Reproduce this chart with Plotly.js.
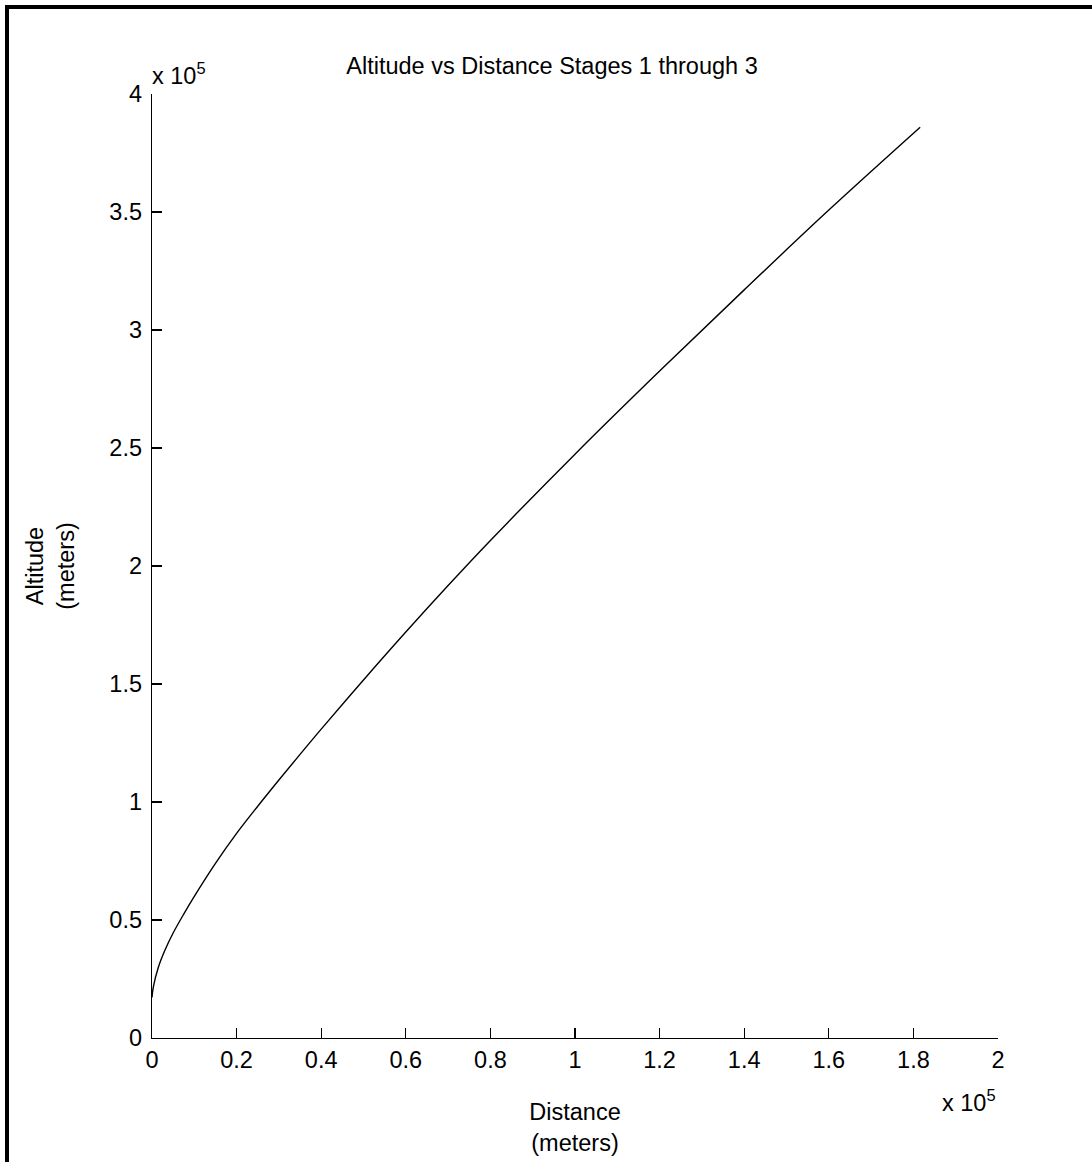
<!DOCTYPE html>
<html>
<head>
<meta charset="utf-8">
<script src="https://cdn.plot.ly/plotly-3.0.1.min.js"></script>
<style>
  html, body { margin: 0; padding: 0; background: #fff; }
  #chart { width: 1092px; height: 1162px; }
</style>
</head>
<body>
<div id="chart"></div>
<script>
// Distance (meters) and altitude (meters)
const distance = [0, 300, 1500, 3000, 5000, 7500, 10000, 15000, 20000, 25000, 30000,
  35000, 40000, 50000, 60000, 70000, 80000, 100000, 120000, 140000, 160000, 181600];
const altitude = [17200, 21500, 30000, 37000, 44500, 52500, 60000, 74000, 86700, 98200, 109300,
  120200, 130900, 151700, 172000, 191700, 210800, 247400, 282600, 317000, 350800, 385900];

const xTickVals = [0, 20000, 40000, 60000, 80000, 100000, 120000, 140000, 160000, 180000, 200000];
const xTickText = ['0', '0.2', '0.4', '0.6', '0.8', '1', '1.2', '1.4', '1.6', '1.8', '2'];
const yTickVals = [0, 50000, 100000, 150000, 200000, 250000, 300000, 350000, 400000];
const yTickText = ['0', '0.5', '1', '1.5', '2', '2.5', '3', '3.5', '4'];

const W = 1092, H = 1162;
const L = 152, R = 998, T = 94, B = 1038;
const px = v => (v - L) / (R - L);
const py = v => (B - v) / (B - T);
const FONT = 'Liberation Sans, Arial, sans-serif';
const FS = 23.5;

const trace = {
  x: distance, y: altitude, type: 'scatter', mode: 'lines',
  line: { color: '#000', width: 1.4, shape: 'spline', smoothing: 1 },
  hoverinfo: 'skip', showlegend: false
};

const layout = {
  width: W, height: H,
  margin: { l: L, r: W - R, t: T, b: H - B, pad: 0 },
  paper_bgcolor: '#fff', plot_bgcolor: '#fff',
  font: { family: FONT, size: FS, color: '#000' },
  title: {
    text: 'Altitude vs Distance Stages 1 through 3',
    font: { family: FONT, size: FS, color: '#000' },
    xref: 'container', yref: 'container', x: 552 / W, y: 1 - 66 / H,
    xanchor: 'center', yanchor: 'middle'
  },
  xaxis: {
    range: [0, 200000], tickvals: xTickVals, ticktext: xTickText,
    ticks: 'inside', ticklen: 10, tickwidth: 1.3, tickcolor: '#000',
    showline: true, linecolor: '#000', linewidth: 1.3, mirror: false,
    showgrid: false, zeroline: false, fixedrange: true,
    tickfont: { family: FONT, size: FS, color: '#000' },
    title: { text: 'Distance<br>(meters)', font: { family: FONT, size: FS, color: '#000' }, standoff: 32 }
  },
  yaxis: {
    range: [0, 400000], tickvals: yTickVals, ticktext: yTickText,
    ticks: 'inside', ticklen: 10, tickwidth: 1.3, tickcolor: '#000',
    showline: true, linecolor: '#000', linewidth: 1.3, mirror: false,
    showgrid: false, zeroline: false, fixedrange: true,
    ticklabelstandoff: 4,
    tickfont: { family: FONT, size: FS, color: '#000' },
    title: { text: 'Altitude<br>(meters)', font: { family: FONT, size: FS, color: '#000' }, standoff: 28 }
  },
  annotations: [
    { xref: 'paper', yref: 'paper', x: px(150), y: py(91), xanchor: 'left', yanchor: 'bottom',
      text: 'x 10<sup>5</sup>', showarrow: false, font: { family: FONT, size: FS, color: '#000' } },
    { xref: 'paper', yref: 'paper', x: px(998), y: py(1118), xanchor: 'right', yanchor: 'bottom',
      text: 'x 10<sup>5</sup>', showarrow: false, font: { family: FONT, size: FS, color: '#000' } }
  ],
  shapes: [
    { type: 'line', xref: 'paper', yref: 'paper', x0: px(5), x1: px(1092), y0: py(7), y1: py(7),
      line: { color: '#000', width: 4 } },
    { type: 'line', xref: 'paper', yref: 'paper', x0: px(7), x1: px(7), y0: py(5), y1: py(1162),
      line: { color: '#000', width: 4 } }
  ]
};

Plotly.newPlot('chart', [trace], layout, { displayModeBar: false, staticPlot: true });
</script>
</body>
</html>
